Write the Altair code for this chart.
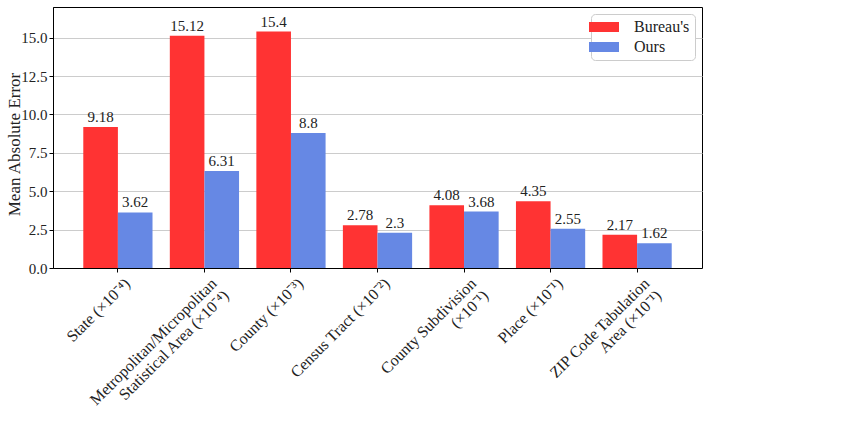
import altair as alt
import pandas as pd

# Geographic levels (with the scale factor applied to each level's error)
categories = [
    "State (×10⁻⁴)",
    "Metropolitan/Micropolitan\nStatistical Area (×10⁻⁴)",
    "County (×10⁻³)",
    "Census Tract (×10⁻²)",
    "County Subdivision\n(×10⁻¹)",
    "Place (×10⁻¹)",
    "ZIP Code Tabulation\nArea (×10⁻¹)",
]
bureau = [9.18, 15.12, 15.4, 2.78, 4.08, 4.35, 2.17]
ours = [3.62, 6.31, 8.8, 2.3, 3.68, 2.55, 1.62]
methods = ["Bureau's", "Ours"]
colors = ["#ff3333", "#6688e4"]

rows = []
for cat, b, o in zip(categories, bureau, ours):
    rows.append({"level": cat, "method": methods[0], "mae": b, "label": str(b)})
    rows.append({"level": cat, "method": methods[1], "mae": o, "label": str(o)})
df = pd.DataFrame(rows)

FONT = "Liberation Serif"
TXT = "#222222"

x_enc = alt.X(
    "level:N",
    sort=categories,
    scale=alt.Scale(paddingInner=0.2, paddingOuter=0.35),
    axis=alt.Axis(
        title=None,
        labelAngle=-45,
        labelAlign="right",
        labelBaseline="top",
        labelPadding=3,
        labelOffset=4,
        labelExpr="split(datum.label, '\\n')",
        labelLineHeight=17,
        labelFont=FONT,
        labelFontSize=16,
        labelColor=TXT,
        tickColor="black",
        tickSize=4,
        domainColor="black",
        grid=False,
    ),
)
xoff_enc = alt.XOffset("method:N", sort=methods, scale=alt.Scale(paddingInner=0, paddingOuter=0))
y_enc = alt.Y(
    "mae:Q",
    scale=alt.Scale(domain=[0, 17], nice=False),
    axis=alt.Axis(
        title="Mean Absolute Error",
        titleX=-39,
        titleY=137,
        titleAngle=-90,
        titleAlign="center",
        titleBaseline="middle",
        values=[0, 2.5, 5, 7.5, 10, 12.5, 15],
        format=".1f",
        labelFont=FONT,
        labelFontSize=15,
        labelColor=TXT,
        titleFont=FONT,
        titleFontSize=17,
        titleFontWeight="normal",
        titleColor=TXT,
        tickColor="black",
        tickSize=4,
        domainColor="black",
        grid=True,
        gridColor="#cccccc",
        gridWidth=1,
    ),
)

bars = alt.Chart(df).mark_bar().encode(
    x=x_enc,
    xOffset=xoff_enc,
    y=y_enc,
    color=alt.Color(
        "method:N",
        sort=methods,
        scale=alt.Scale(domain=methods, range=colors),
        legend=alt.Legend(
            title=None,
            orient="top-right",
            offset=7,
            padding=5,
            strokeColor="#cccccc",
            fillColor="white",
            cornerRadius=4,
            symbolType="M-3,-1L3,-1L3,1L-3,1Z",
            symbolSize=100,
            symbolStrokeWidth=0,
            symbolOpacity=1,
            labelFontSize=16,
            labelFont=FONT,
            labelColor=TXT,
            labelOffset=22,
            rowPadding=4,
        ),
    ),
)

labels = alt.Chart(df).mark_text(
    baseline="bottom", dy=-2, fontSize=15, font=FONT, color=TXT
).encode(
    x=alt.X("level:N", sort=categories),
    xOffset=alt.XOffset("method:N", sort=methods),
    y="mae:Q",
    text="label:N",
)

chart = (
    alt.layer(bars, labels)
    .properties(
        width=649,
        height=261,
        autosize=alt.AutoSizeParams(type="none"),
        padding={"left": 53, "top": 7, "right": 157, "bottom": 175},
        background="white",
    )
    .configure_view(stroke="black", strokeWidth=1)
)

chart.save("out.html", embed_options={"renderer": "svg", "actions": False})
